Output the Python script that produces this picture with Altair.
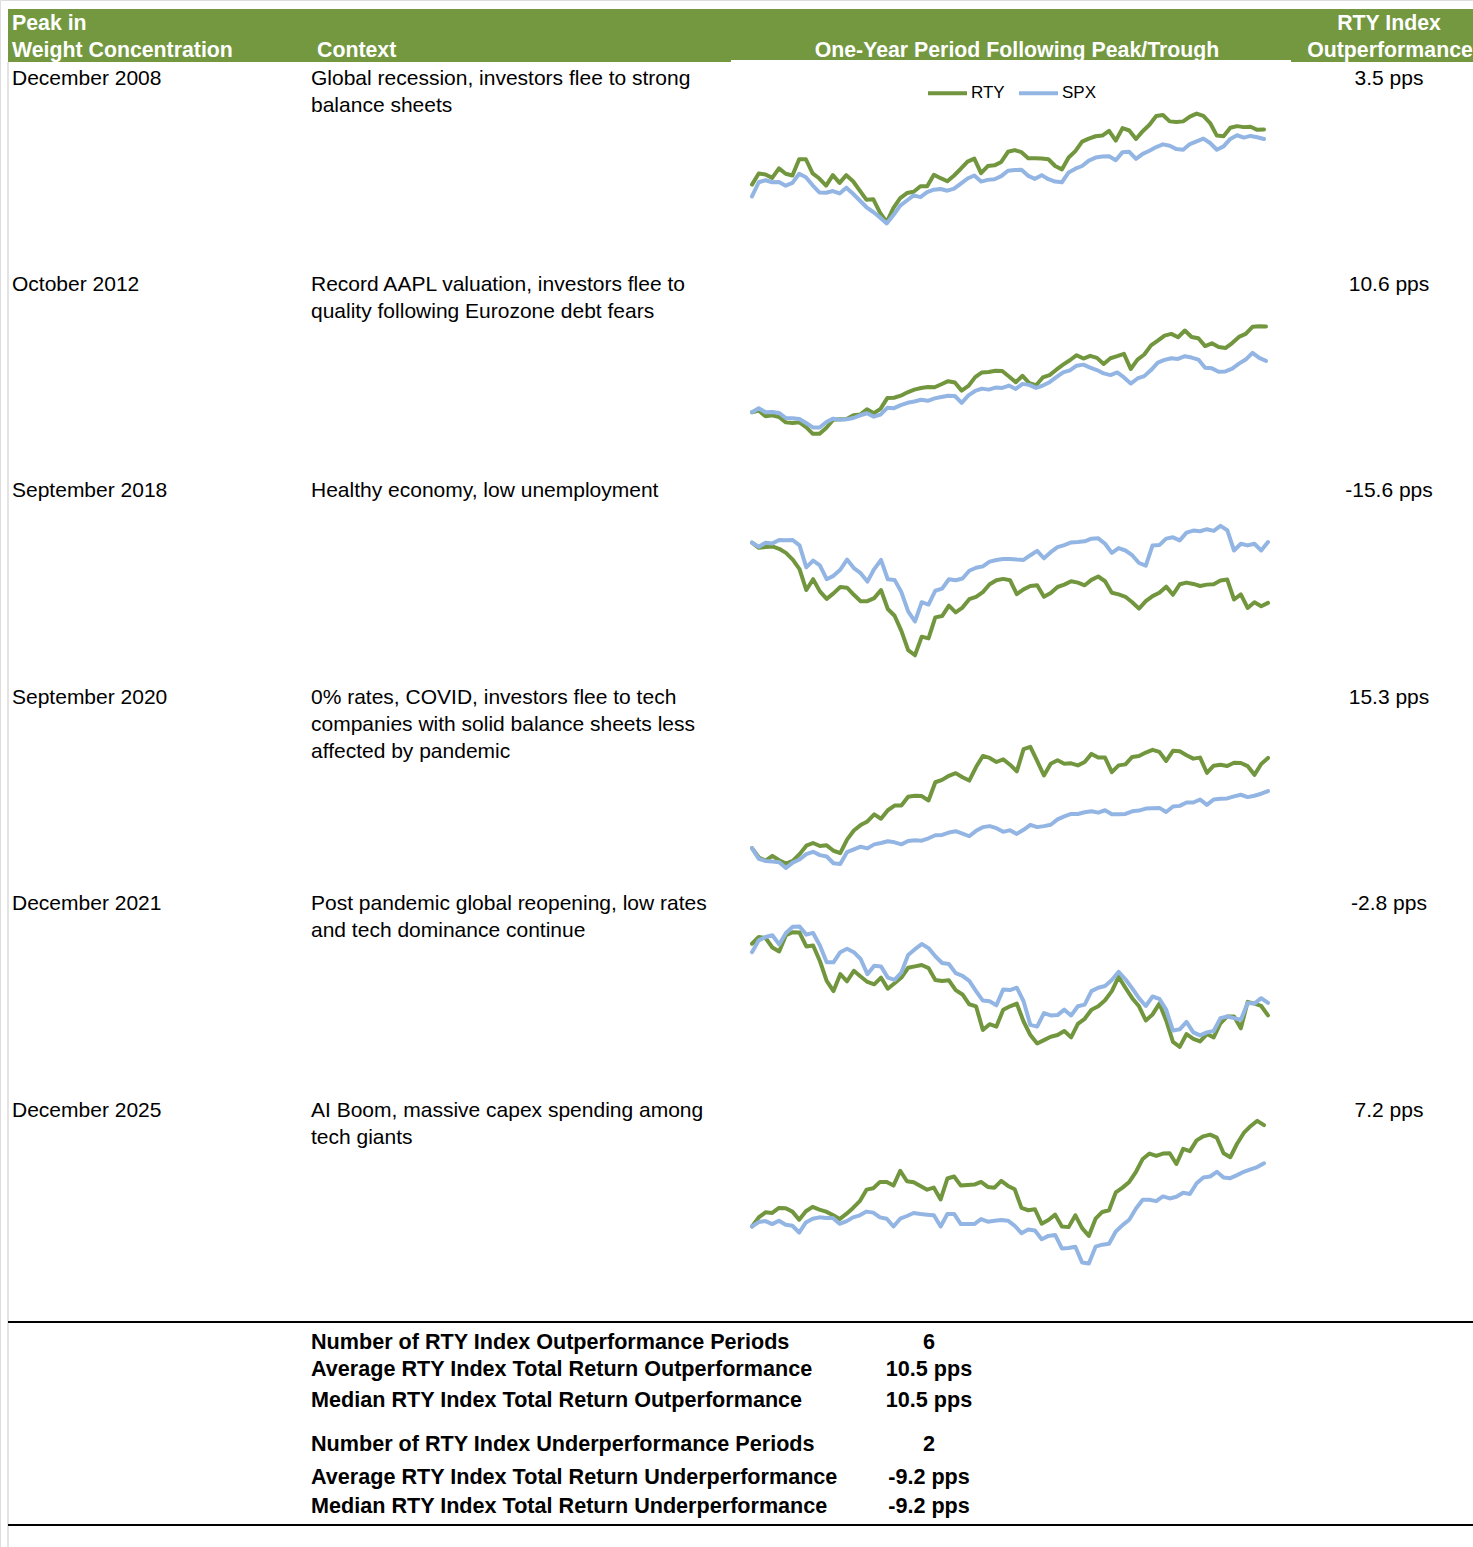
import altair as alt
import pandas as pd

# ---------------- data ----------------
periods = ["December 2008", "October 2012", "September 2018",
           "September 2020", "December 2021", "December 2025"]
contexts = [
    "Global recession, investors flee to strong\nbalance sheets",
    "Record AAPL valuation, investors flee to\nquality following Eurozone debt fears",
    "Healthy economy, low unemployment",
    "0% rates, COVID, investors flee to tech\ncompanies with solid balance sheets less\naffected by pandemic",
    "Post pandemic global reopening, low rates\nand tech dominance continue",
    "AI Boom, massive capex spending among\ntech giants",
]
outperf = ["3.5 pps", "10.6 pps", "-15.6 pps", "15.3 pps", "-2.8 pps", "7.2 pps"]

# relative index levels (regular trading-day steps)
rty_2008 = [235, 268, 265, 255, 283, 267, 262, 310, 310, 268, 253, 232, 263, 240, 263, 245, 217, 190, 192, 152,
            124, 166, 195, 210, 214, 230, 230, 264, 254, 245, 262, 282, 303, 312, 269, 290, 292, 302, 332, 337,
            331, 313, 313, 312, 310, 290, 280, 315, 334, 362, 371, 378, 380, 394, 365, 402, 395, 370, 393, 412,
            438, 441, 422, 420, 422, 436, 445, 438, 417, 380, 378, 403, 408, 405, 406, 397, 398]
spx_2008 = [200, 242, 248, 242, 243, 232, 240, 267, 257, 233, 212, 211, 216, 209, 226, 208, 188, 168, 154, 138,
            120, 145, 173, 188, 203, 198, 213, 220, 222, 217, 223, 238, 253, 262, 244, 249, 251, 260, 276, 278,
            279, 261, 252, 263, 251, 244, 242, 271, 282, 290, 306, 315, 318, 319, 307, 331, 332, 311, 326, 335,
            346, 354, 350, 340, 338, 355, 363, 371, 358, 338, 348, 370, 381, 374, 379, 375, 370]
rty_2012 = [212, 217, 200, 203, 198, 182, 180, 182, 168, 148, 148, 166, 190, 191, 192, 203, 205, 221, 209, 222,
            254, 255, 261, 271, 279, 284, 287, 286, 295, 304, 300, 276, 290, 316, 330, 331, 335, 334, 318, 301,
            320, 298, 292, 315, 322, 338, 353, 366, 381, 371, 379, 373, 355, 372, 378, 385, 340, 368, 383, 410,
            424, 439, 444, 434, 454, 435, 431, 408, 416, 405, 402, 417, 435, 444, 465, 467, 466]
spx_2012 = [212, 224, 212, 213, 210, 195, 194, 192, 180, 167, 167, 183, 193, 190, 191, 195, 203, 209, 199, 205,
            225, 224, 233, 240, 244, 249, 246, 253, 257, 261, 260, 240, 262, 275, 282, 279, 285, 284, 291, 281,
            296, 293, 284, 291, 301, 316, 330, 336, 350, 353, 344, 337, 327, 322, 330, 315, 297, 312, 319, 337,
            359, 367, 372, 370, 378, 374, 368, 344, 342, 332, 333, 341, 356, 368, 388, 373, 364]
rty_2018 = [418, 403, 405, 407, 400, 388, 368, 340, 278, 310, 274, 252, 268, 287, 285, 264, 245, 245, 254, 278,
            222, 202, 157, 100, 85, 140, 135, 197, 201, 232, 212, 226, 251, 258, 272, 295, 307, 311, 307, 266,
            280, 290, 292, 258, 269, 287, 294, 304, 300, 292, 308, 318, 304, 270, 265, 258, 242, 223, 245, 260,
            270, 288, 264, 295, 300, 296, 290, 294, 295, 306, 309, 250, 265, 225, 242, 230, 240]
spx_2018 = [418, 406, 418, 416, 426, 425, 426, 410, 345, 365, 351, 310, 320, 338, 368, 343, 328, 303, 340, 367,
            310, 308, 272, 215, 185, 242, 235, 276, 282, 310, 307, 312, 335, 344, 348, 362, 367, 370, 370, 368,
            367, 381, 394, 372, 390, 405, 411, 419, 420, 422, 430, 431, 415, 388, 402, 395, 381, 358, 350, 410,
            411, 430, 434, 425, 448, 454, 452, 458, 453, 468, 455, 395, 415, 410, 415, 395, 420]
rty_2020 = [165, 137, 128, 142, 129, 119, 127, 147, 172, 180, 171, 173, 157, 150, 190, 217, 233, 244, 265, 252,
            277, 291, 291, 317, 320, 319, 306, 360, 367, 379, 387, 375, 365, 405, 438, 432, 420, 428, 412, 392,
            458, 465, 423, 380, 415, 425, 415, 416, 410, 420, 444, 433, 433, 390, 410, 413, 435, 438, 448, 456,
            450, 423, 453, 452, 440, 430, 433, 388, 409, 412, 408, 418, 417, 408, 382, 414, 432]
spx_2020 = [165, 133, 127, 125, 123, 106, 122, 131, 147, 154, 144, 140, 120, 118, 153, 161, 169, 164, 176, 180,
            185, 182, 176, 186, 188, 187, 194, 203, 204, 211, 215, 208, 200, 216, 227, 230, 224, 213, 218, 207,
            219, 234, 227, 230, 234, 250, 259, 266, 266, 271, 274, 270, 277, 265, 265, 266, 274, 276, 282, 283,
            284, 272, 288, 290, 300, 300, 309, 293, 309, 311, 312, 318, 323, 316, 320, 326, 334]
rty_2021 = [415, 435, 432, 404, 392, 440, 449, 448, 407, 410, 364, 305, 275, 325, 304, 335, 318, 302, 295, 315,
            282, 298, 315, 344, 348, 352, 343, 308, 305, 307, 278, 265, 236, 230, 160, 177, 170, 220, 230, 238,
            185, 145, 120, 130, 140, 145, 157, 138, 178, 193, 220, 230, 248, 275, 317, 285, 254, 230, 188, 206,
            238, 188, 125, 110, 148, 134, 126, 148, 138, 180, 200, 200, 165, 243, 238, 231, 203]
spx_2021 = [390, 425, 435, 440, 413, 447, 465, 466, 442, 447, 410, 360, 360, 390, 400, 390, 370, 325, 350, 348,
            315, 308, 330, 382, 399, 414, 402, 378, 358, 355, 328, 320, 305, 275, 247, 245, 233, 280, 278, 285,
            245, 175, 170, 210, 203, 204, 220, 203, 230, 235, 275, 285, 290, 308, 332, 310, 283, 254, 231, 259,
            252, 220, 158, 162, 184, 153, 144, 153, 157, 195, 200, 195, 190, 240, 238, 254, 240]
rty_2025 = [155, 182, 197, 195, 210, 209, 199, 175, 200, 213, 205, 199, 189, 177, 192, 210, 230, 264, 268, 287,
            287, 276, 320, 289, 286, 275, 264, 270, 235, 297, 303, 276, 278, 279, 287, 272, 270, 290, 275, 265,
            210, 203, 206, 163, 174, 190, 155, 153, 188, 150, 127, 178, 198, 203, 256, 270, 287, 317, 355, 371,
            364, 371, 372, 340, 385, 378, 410, 422, 427, 418, 372, 360, 400, 432, 452, 468, 455]
spx_2025 = [155, 168, 171, 162, 172, 160, 157, 137, 167, 178, 182, 180, 180, 163, 170, 182, 188, 199, 196, 182,
            178, 155, 178, 186, 195, 192, 190, 188, 155, 192, 192, 162, 162, 162, 177, 169, 172, 174, 172, 157,
            135, 146, 143, 117, 127, 130, 90, 91, 95, 48, 45, 95, 101, 104, 140, 159, 175, 208, 234, 234,
            230, 244, 238, 243, 255, 251, 283, 300, 303, 317, 300, 298, 307, 317, 324, 331, 342]

summary_labels = ["Number of RTY Index Outperformance Periods",
                  "Average RTY Index Total Return Outperformance",
                  "Median RTY Index Total Return Outperformance",
                  "Number of RTY Index Underperformance Periods",
                  "Average RTY Index Total Return Underperformance",
                  "Median RTY Index Total Return Underperformance"]
summary_values = ["6", "10.5 pps", "10.5 pps", "2", "-9.2 pps", "-9.2 pps"]

series_names = ["RTY", "SPX"]

# ---------------- styling / layout ----------------
FONT = "Liberation Sans"
HEADER_GREEN = "#73983F"
RTY_GREEN = "#71963E"
SPX_BLUE = "#93B5E3"
FS = 21

panel_pairs = [(rty_2008, spx_2008), (rty_2012, spx_2012), (rty_2018, spx_2018),
               (rty_2020, spx_2020), (rty_2021, spx_2021), (rty_2025, spx_2025)]
panel_layout = [
    dict(dom=[86, 500], yr=[235, 95], xr=[752, 1264]),
    dict(dom=[115, 500], yr=[445, 315], xr=[752, 1266]),
    dict(dom=[71, 500], yr=[660, 515], xr=[752, 1268]),
    dict(dom=[100, 500], yr=[870, 735], xr=[752, 1268]),
    dict(dom=[86, 500], yr=[1055, 915], xr=[752, 1268]),
    dict(dom=[26, 500], yr=[1270, 1110], xr=[752, 1264]),
]

recs = []
for p, (r, s) in enumerate(panel_pairs):
    for name, vals in zip(series_names, (r, s)):
        for i, v in enumerate(vals):
            recs.append({"panel": p, "series": name, "day": i, "value": v})
lines_df = pd.DataFrame(recs)

table_df = pd.DataFrame({"row": list(range(len(periods))), "period": periods,
                         "context": contexts, "perf": outperf})

ONE = alt.Data(values=[{"k": 1}])


def rect(x1, x2, y1, y2, color):
    return alt.Chart(ONE).mark_rect(color=color).encode(
        x=alt.value(x1), x2=alt.value(x2), y=alt.value(y1), y2=alt.value(y2))


def rule(x1, x2, y1, y2, color, width):
    return alt.Chart(ONE).mark_rule(color=color, strokeWidth=width).encode(
        x=alt.value(x1), x2=alt.value(x2), y=alt.value(y1), y2=alt.value(y2))


def label(text, x, y, align="left", bold=False, color="black", size=FS):
    return alt.Chart(alt.Data(values=[{"t": text}])).mark_text(
        align=align, baseline="top", font=FONT, fontSize=size,
        fontWeight="bold" if bold else "normal", color=color
    ).encode(x=alt.value(x), y=alt.value(y), text="t:N")


layers = []
# header band
layers.append(rect(8, 731, 9, 62, HEADER_GREEN))
layers.append(rect(731, 1291, 9, 60, HEADER_GREEN))
layers.append(rect(1291, 1473, 9, 62, HEADER_GREEN))
# left border and summary rules
layers.append(rule(8, 8, 62, 1547, "#c8c8c8", 1))
layers.append(rule(8, 1473, 1322, 1322, "black", 2))
layers.append(rule(8, 1473, 1525, 1525, "black", 2))

# header texts
HS = 21.3
layers.append(label("Peak in", 12, 13, bold=True, color="white", size=HS))
layers.append(label("Weight Concentration", 12, 40, bold=True, color="white", size=HS))
layers.append(label("Context", 317, 40, bold=True, color="white", size=HS))
layers.append(label("One-Year Period Following Peak/Trough", 1017, 40, align="center", bold=True,
                    color="white", size=HS))
layers.append(label("RTY Index", 1389, 13, align="center", bold=True, color="white", size=HS))
layers.append(label("Outperformance", 1390, 40, align="center", bold=True, color="white", size=HS))

# table rows
row_scale = alt.Scale(domain=[0, 5], range=[67.5, 1099.5])
base_t = alt.Chart(table_df)
layers.append(base_t.mark_text(align="left", baseline="top", font=FONT, fontSize=FS, color="black").encode(
    x=alt.value(12), y=alt.Y("row:Q", scale=row_scale, axis=None), text="period:N"))
layers.append(base_t.mark_text(align="left", baseline="top", font=FONT, fontSize=FS, color="black",
                               lineBreak="\n", lineHeight=27).encode(
    x=alt.value(311), y=alt.Y("row:Q", scale=row_scale, axis=None), text="context:N"))
layers.append(base_t.mark_text(align="center", baseline="top", font=FONT, fontSize=FS, color="black").encode(
    x=alt.value(1389), y=alt.Y("row:Q", scale=row_scale, axis=None), text="perf:N"))

# line panels
for p, lay in enumerate(panel_layout):
    legend = None
    if p == 0:
        legend = alt.Legend(orient="none", legendX=926, legendY=71.5, direction="horizontal",
                            title=None, symbolType="stroke", symbolSize=1521, symbolStrokeWidth=4,
                            labelFont=FONT, labelFontSize=17, labelColor="black",
                            labelOffset=2, columnPadding=6, padding=0)
    layers.append(
        alt.Chart(lines_df).transform_filter(alt.datum.panel == p).mark_line(
            strokeWidth=4, strokeJoin="round", strokeCap="round").encode(
            x=alt.X("day:Q", scale=alt.Scale(domain=[0, 76], range=lay["xr"], nice=False, zero=False), axis=None),
            y=alt.Y("value:Q", scale=alt.Scale(domain=lay["dom"], range=lay["yr"], nice=False, zero=False), axis=None),
            color=alt.Color("series:N", scale=alt.Scale(domain=series_names, range=[RTY_GREEN, SPX_BLUE]),
                            legend=legend),
            order=alt.Order("day:Q"),
        )
    )

# summary
SS = 21.6
sum_tops = [1332, 1359, 1389.5, 1434, 1466.5, 1496]
for lab, val, yt in zip(summary_labels, summary_values, sum_tops):
    layers.append(label(lab, 311, yt, bold=True, size=SS))
    layers.append(label(val, 929, yt, align="center", bold=True, size=SS))

chart = alt.layer(*layers).resolve_scale(
    x="independent", y="independent", color="independent"
).properties(
    width=1473, height=1547, padding=0,
    autosize=alt.AutoSizeParams(type="none"),
    background="white",
).configure_view(stroke=None).configure(font=FONT)

chart.save("out.html", embed_options={"renderer": "svg", "actions": False})
